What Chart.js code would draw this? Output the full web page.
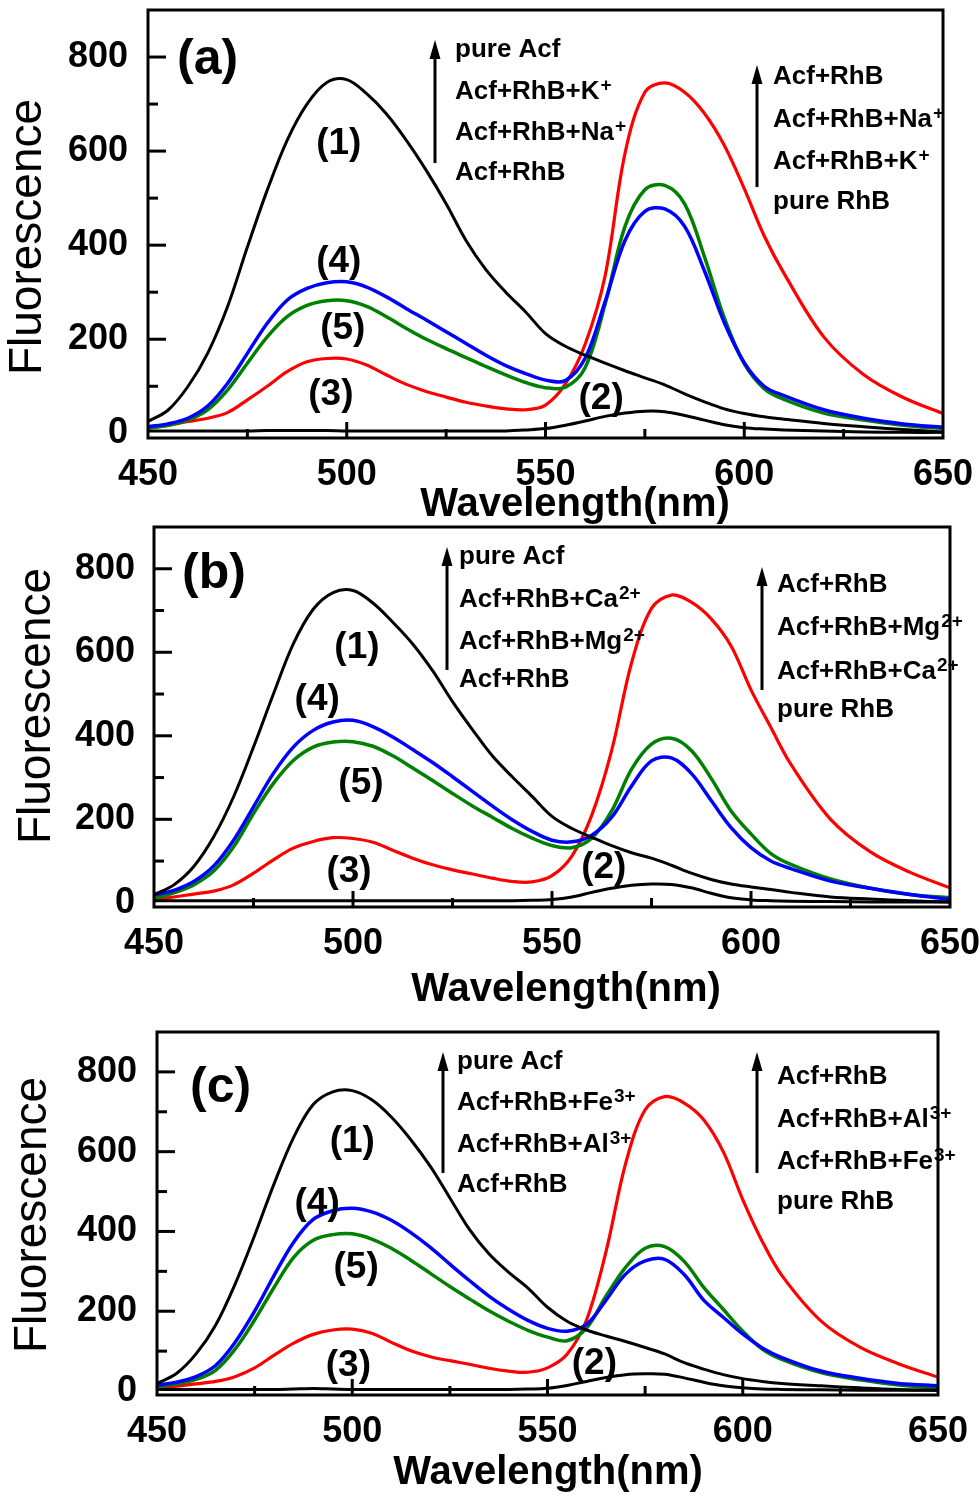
<!DOCTYPE html>
<html>
<head>
<meta charset="utf-8">
<script src="https://cdn.jsdelivr.net/npm/chart.js@4.4.0/dist/chart.umd.min.js"></script>
<style>
    html, body { margin: 0; padding: 0; background: #fff; }
    #wrap { position: relative; width: 980px; height: 1498px; overflow: hidden; }
    canvas { position: absolute; left: 0; }
</style>
</head>
<body>
<div id="wrap">
    <canvas id="chartA" width="980" height="530" style="top:0"></canvas>
    <canvas id="chartB" width="980" height="500" style="top:520px"></canvas>
    <canvas id="chartC" width="980" height="478" style="top:1020px"></canvas>
</div>
<script>
// Shared wavelength grid (nm)
const wavelengths = [450, 455, 460, 465, 470, 475, 480, 485, 490, 495,
    500, 505, 510, 515, 520, 525, 530, 535, 540, 545,
    550, 555, 560, 565, 570, 575, 580, 585, 590, 595,
    600, 605, 610, 620, 630, 640, 650];
const yTickValues = [0, 200, 400, 600, 800];

// Panel (a): Na+ / K+
const acfA = [25, 49, 99, 170, 269, 396, 517, 623, 700, 746, 752, 722, 679, 623, 559, 488, 410, 348, 300, 258, 212, 185, 166, 149, 133, 118, 103, 84, 67, 52, 42, 35, 30, 21, 14, 8, 3];
const rhbA = [5, 5, 5, 5, 5, 5, 6, 6, 6, 6, 5, 5, 5, 5, 5, 5, 5, 5, 5, 7, 10, 17, 26, 36, 43, 47, 46, 38, 28, 18, 12, 9, 7, 5, 3, 2, 2];
const mixA = [11, 17, 25, 32, 44, 71, 100, 131, 152, 159, 158, 145, 124, 104, 89, 77, 66, 58, 52, 50, 60, 105, 190, 335, 595, 725, 745, 725, 680, 612, 520, 420, 340, 205, 125, 76, 42];
const kA = [14, 20, 32, 58, 106, 170, 234, 283, 308, 320, 322, 311, 290, 265, 241, 216, 191, 166, 144, 127, 113, 112, 160, 280, 410, 472, 477, 440, 345, 235, 150, 100, 80, 50, 32, 20, 13];
const naA = [11, 17, 28, 50, 92, 149, 205, 248, 272, 282, 282, 270, 248, 223, 200, 180, 161, 142, 124, 108, 97, 98, 140, 275, 440, 518, 527, 488, 375, 245, 148, 95, 72, 43, 28, 17, 10];

// Panel (b): Ca2+ / Mg2+
const acfB = [19, 43, 87, 158, 254, 373, 500, 620, 703, 743, 748, 718, 672, 620, 556, 482, 415, 352, 302, 255, 207, 178, 157, 137, 120, 107, 90, 71, 56, 45, 38, 32, 25, 14, 9, 5, 2];
const rhbB = [5, 5, 5, 5, 5, 5, 5, 5, 5, 5, 5, 5, 5, 5, 5, 5, 5, 5, 5, 6, 8, 14, 25, 35, 42, 45, 44, 36, 23, 12, 7, 5, 4, 3, 2, 2, 2];
const mixB = [7, 14, 21, 28, 43, 71, 103, 131, 147, 156, 154, 145, 126, 107, 91, 79, 69, 59, 51, 50, 65, 112, 210, 365, 575, 705, 737, 720, 680, 615, 510, 420, 332, 200, 122, 73, 36];
const caB = [19, 30, 51, 88, 150, 230, 310, 373, 413, 433, 437, 422, 397, 367, 336, 302, 267, 232, 199, 171, 150, 146, 162, 205, 280, 340, 347, 310, 245, 180, 132, 100, 82, 52, 35, 20, 8];
const mgB = [11, 24, 43, 76, 134, 214, 286, 341, 373, 385, 386, 375, 352, 323, 293, 262, 232, 205, 178, 155, 137, 132, 155, 220, 320, 380, 394, 365, 298, 220, 165, 118, 92, 57, 35, 20, 12];

// Panel (c): Fe3+ / Al3+
const acfC = [19, 44, 93, 165, 268, 390, 520, 636, 718, 750, 753, 730, 687, 630, 563, 484, 405, 344, 298, 258, 210, 175, 153, 138, 124, 109, 93, 71, 55, 41, 31, 24, 19, 13, 8, 4, 2];
const rhbC = [4, 4, 4, 4, 4, 4, 4, 5, 6, 5, 4, 4, 4, 4, 4, 4, 4, 4, 4, 5, 7, 14, 24, 34, 41, 43, 42, 33, 22, 13, 8, 5, 4, 3, 2, 2, 2];
const mixC = [7, 12, 18, 24, 36, 58, 90, 120, 142, 153, 155, 145, 122, 101, 86, 76, 67, 57, 50, 47, 58, 92, 178, 350, 570, 705, 738, 722, 680, 600, 480, 375, 290, 176, 110, 68, 35];
const feC = [15, 22, 36, 64, 122, 200, 290, 373, 430, 452, 458, 449, 428, 397, 360, 318, 277, 238, 205, 177, 157, 150, 167, 228, 293, 326, 330, 292, 228, 185, 143, 108, 84, 50, 32, 19, 13];
const alC = [11, 18, 29, 52, 105, 178, 260, 335, 378, 392, 394, 381, 358, 328, 295, 262, 231, 201, 175, 152, 135, 126, 158, 238, 310, 358, 362, 325, 260, 205, 150, 105, 79, 46, 28, 15, 8];

// Curve tags, anchored in data coordinates (nm, fluorescence)
const curveTags = ['(1)', '(4)', '(5)', '(3)', '(2)'];
const tagNmA = [498, 498, 499, 496, 564];
const tagValA = [615, 364, 223, 81, 74];
const tagNmB = [501, 491, 502, 499, 563];
const tagValB = [611, 486, 285, 74, 84];
const tagNmC = [500, 491, 501, 499, 562];
const tagValC = [626, 470, 309, 63, 68];

// Legend texts ("^" starts a superscript)
const leftLegendA = ['pure Acf', 'Acf+RhB+K^+', 'Acf+RhB+Na^+', 'Acf+RhB'];
const rightLegendA = ['Acf+RhB', 'Acf+RhB+Na^+', 'Acf+RhB+K^+', 'pure RhB'];
const leftLegendB = ['pure Acf', 'Acf+RhB+Ca^2+', 'Acf+RhB+Mg^2+', 'Acf+RhB'];
const rightLegendB = ['Acf+RhB', 'Acf+RhB+Mg^2+', 'Acf+RhB+Ca^2+', 'pure RhB'];
const leftLegendC = ['pure Acf', 'Acf+RhB+Fe^3+', 'Acf+RhB+Al^3+', 'Acf+RhB'];
const rightLegendC = ['Acf+RhB', 'Acf+RhB+Al^3+', 'Acf+RhB+Fe^3+', 'pure RhB'];

const FONT = '"Liberation Sans", Arial, sans-serif';

function drawSup(ctx, str, x, y, size) {
    const parts = str.split('^');
    ctx.textAlign = 'left';
    ctx.textBaseline = 'middle';
    ctx.font = `bold ${size}px ${FONT}`;
    ctx.fillText(parts[0], x, y);
    if (parts[1]) {
        const w = ctx.measureText(parts[0]).width;
        ctx.font = `bold ${Math.round(size * 0.72)}px ${FONT}`;
        ctx.fillText(parts[1], x + w + 1, y - size * 0.25);
    }
}

function drawArrow(ctx, x, top, bottom) {
    ctx.lineWidth = 3;
    ctx.beginPath();
    ctx.moveTo(x, bottom);
    ctx.lineTo(x, top + 12);
    ctx.stroke();
    ctx.beginPath();
    ctx.moveTo(x, top);
    ctx.lineTo(x - 5.5, top + 19);
    ctx.lineTo(x + 5.5, top + 19);
    ctx.closePath();
    ctx.fill();
}

const framePlugin = {
    id: 'frame',
    afterDatasetsDraw(chart) {
        const { ctx, chartArea: a, scales: { x, y } } = chart;
        ctx.save();
        ctx.strokeStyle = '#000';
        ctx.lineWidth = 3;
        ctx.lineCap = 'butt';
        // inward ticks
        for (let v = 475; v < 650; v += 25) {
            const px = x.getPixelForValue(v);
            const len = v % 50 === 0 ? 16 : 9;
            ctx.beginPath(); ctx.moveTo(px, a.bottom); ctx.lineTo(px, a.bottom - len); ctx.stroke();
        }
        for (let v = 100; v < 900; v += 100) {
            const py = y.getPixelForValue(v);
            const len = v % 200 === 0 ? 18 : 10;
            ctx.beginPath(); ctx.moveTo(a.left, py); ctx.lineTo(a.left + len, py); ctx.stroke();
        }
        ctx.strokeRect(a.left, a.top, a.right - a.left, a.bottom - a.top);
        ctx.restore();
    },
    afterDraw(chart) {
        const p = chart.options.plugins.frame;
        const { ctx, scales: { x, y } } = chart;
        ctx.save();
        ctx.fillStyle = '#000';
        ctx.strokeStyle = '#000';

        // axis titles
        ctx.textAlign = 'center';
        ctx.textBaseline = 'middle';
        ctx.font = `bold 40px ${FONT}`;
        ctx.fillText('Wavelength(nm)', p.xTitle[0], p.xTitle[1]);
        ctx.save();
        ctx.translate(p.yTitle[0], p.yTitle[1]);
        ctx.rotate(-Math.PI / 2);
        ctx.font = `46px ${FONT}`;
        ctx.fillText('Fluorescence', 0, 0);
        ctx.restore();

        // panel letter
        ctx.textAlign = 'left';
        ctx.font = `bold 50px ${FONT}`;
        ctx.fillText(p.letter, p.letterPos[0], p.letterPos[1]);

        // curve tags
        ctx.textAlign = 'center';
        ctx.font = `bold 37px ${FONT}`;
        p.tagNm.forEach((nm, i) => {
            ctx.fillText(curveTags[i], x.getPixelForValue(nm), y.getPixelForValue(p.tagVal[i]));
        });

        // legend blocks
        drawArrow(ctx, p.leftArrow[0], p.leftArrow[1], p.leftArrow[2]);
        p.leftText.forEach((t, i) => drawSup(ctx, t, p.leftTextX, p.leftRows[i], 26));
        drawArrow(ctx, p.rightArrow[0], p.rightArrow[1], p.rightArrow[2]);
        p.rightText.forEach((t, i) => drawSup(ctx, t, p.rightTextX, p.rightRows[i], 26));
        ctx.restore();
    }
};

function makeSeries(vals, color, width) {
    return {
        data: wavelengths.map((w, i) => ({ x: w, y: vals[i] })),
        borderColor: color,
        borderWidth: width,
        pointRadius: 0,
        fill: false,
        tension: 0.35
    };
}

function noScalePadding(s) {
    s.paddingTop = 0;
    s.paddingBottom = 0;
    s.paddingLeft = 0;
    s.paddingRight = 0;
}

function buildPanel(id, series, L, extra) {
    const tickFont = { family: FONT, size: 36, weight: 'bold' };
    return new Chart(document.getElementById(id), {
        type: 'line',
        data: {
            datasets: [
                makeSeries(series[0], '#000000', 3),
                makeSeries(series[1], '#000000', 3),
                makeSeries(series[3], '#0000FF', 3.5),
                makeSeries(series[4], '#008000', 3.5),
                makeSeries(series[2], '#FF0000', 3.2)
            ]
        },
        options: {
            responsive: false,
            animation: false,
            events: [],
            layout: {
                autoPadding: false,
                padding: { left: 0, right: L.padRight, top: L.padTop, bottom: 0 }
            },
            plugins: {
                legend: { display: false },
                tooltip: { enabled: false },
                frame: extra
            },
            scales: {
                x: {
                    type: 'linear',
                    min: 450,
                    max: 650,
                    afterFit: s => { s.height = L.xHeight; noScalePadding(s); },
                    ticks: { stepSize: 50, color: '#000', font: tickFont, padding: 15, maxRotation: 0, autoSkip: false },
                    grid: { display: false, drawTicks: false },
                    border: { display: false }
                },
                y: {
                    type: 'linear',
                    min: -10,
                    max: 900,
                    afterFit: s => { s.width = L.yWidth; noScalePadding(s); },
                    afterBuildTicks: s => { s.ticks = yTickValues.map(v => ({ value: v })); },
                    ticks: { color: '#000', font: tickFont, padding: L.yPad },
                    grid: { display: false, drawTicks: false },
                    border: { display: false }
                }
            }
        },
        plugins: [framePlugin]
    });
}

buildPanel('chartA', [acfA, rhbA, mixA, kA, naA],
    { padRight: 37, padTop: 10, xHeight: 92, yWidth: 148, yPad: 20 },
    {
        letter: '(a)', letterPos: [177, 60],
        xTitle: [575, 505], yTitle: [28, 237],
        tagNm: tagNmA, tagVal: tagValA,
        leftArrow: [435, 40, 163], leftTextX: 455, leftRows: [50, 92, 133, 173], leftText: leftLegendA,
        rightArrow: [757, 65, 187], rightTextX: 773, rightRows: [77, 120, 162, 202], rightText: rightLegendA
    });

buildPanel('chartB', [acfB, rhbB, mixB, caB, mgB],
    { padRight: 30, padTop: 7, xHeight: 113, yWidth: 154, yPad: 19 },
    {
        letter: '(b)', letterPos: [182, 54],
        xTitle: [566, 470], yTitle: [37, 186],
        tagNm: tagNmB, tagVal: tagValB,
        leftArrow: [447, 27, 150], leftTextX: 459, leftRows: [37, 80, 122, 160], leftText: leftLegendB,
        rightArrow: [762, 47, 170], rightTextX: 777, rightRows: [65, 108, 152, 190], rightText: rightLegendB
    });

buildPanel('chartC', [acfC, rhbC, mixC, feC, alC],
    { padRight: 42, padTop: 12, xHeight: 103, yWidth: 157, yPad: 20 },
    {
        letter: '(c)', letterPos: [190, 68],
        xTitle: [548, 453], yTitle: [33, 195],
        tagNm: tagNmC, tagVal: tagValC,
        leftArrow: [443, 32, 153], leftTextX: 457, leftRows: [42, 83, 125, 165], leftText: leftLegendC,
        rightArrow: [757, 32, 153], rightTextX: 777, rightRows: [57, 100, 142, 182], rightText: rightLegendC
    });
</script>
</body>
</html>
